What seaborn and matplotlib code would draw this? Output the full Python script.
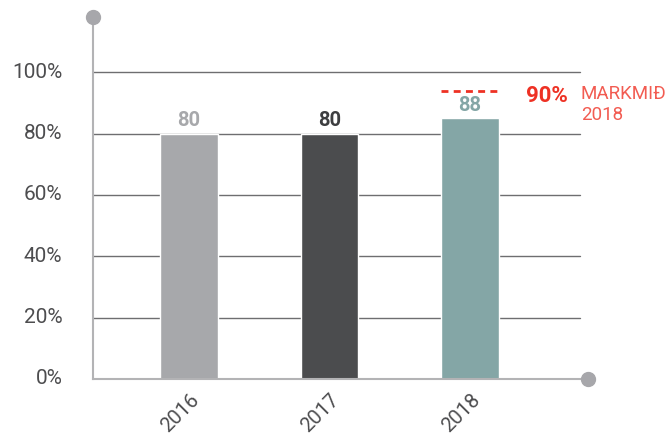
import matplotlib
matplotlib.use("Agg")
import matplotlib.pyplot as plt
import matplotlib.transforms as mtransforms
import seaborn as sns
import pandas as pd

years = ["2016", "2017", "2018"]
bar_heights = [80, 80, 85]
value_labels = ["80", "80", "88"]
bar_colors = ["#a7a8ab", "#4b4c4e", "#84a6a6"]
label_colors = ["#a7a8ab", "#3d3e40", "#84a6a6"]
yticks = [0, 20, 40, 60, 80, 100]
ytick_labels = ["0%", "20%", "40%", "60%", "80%", "100%"]
target_level = 94
target_text = "90%"
target_desc = "MARKMIÐ\n2018"

sns.set_theme(style="white")
plt.rcParams["font.family"] = ["Roboto", "DejaVu Sans"]

df = pd.DataFrame({"year": years, "value": bar_heights})

fig = plt.figure(figsize=(6.71, 4.39), dpi=100)
ax = fig.add_axes([93/671, 59/439, 495/671, 362/439])

sns.barplot(data=df, x="year", y="value", hue="year", palette=bar_colors,
            width=0.41, legend=False, ax=ax, zorder=3, saturation=1)

ax.set_xlim(-0.683, 2.84)
ax.set_ylim(0, 118)

# gridlines
xmax_frac = (580 - 93) / 495
for y in yticks[1:]:
    ax.axhline(y, xmin=0, xmax=xmax_frac, color="#6e6e70", lw=1, zorder=1)

for s in ["top", "right"]:
    ax.spines[s].set_visible(False)
for s in ["left", "bottom"]:
    ax.spines[s].set_color("#b3b3b5")
    ax.spines[s].set_linewidth(1.5)
    ax.spines[s].set_zorder(4)

# end dots
ax.plot([0], [1], transform=ax.transAxes, marker="o", ms=10, color="#a7a7ab",
        clip_on=False, zorder=5)
ax.plot([1], [0], transform=ax.transAxes, marker="o", ms=10, color="#a7a7ab",
        clip_on=False, zorder=5)

ax.set_yticks(yticks)
ax.set_yticklabels(ytick_labels, fontsize=15, color="#4d4d4f")
ax.tick_params(axis="y", length=0, pad=22)
up = mtransforms.ScaledTranslation(0, 3/100, fig.dpi_scale_trans)
for lab in ax.get_yticklabels():
    lab.set_transform(lab.get_transform() + up)

ax.set_xticks(range(len(years)))
ax.set_xticklabels(years, rotation=45, ha="center", va="center",
                   rotation_mode="anchor", fontsize=14.5, color="#4d4d4f")
ax.tick_params(axis="x", length=0, pad=24)
shift = mtransforms.ScaledTranslation(-9/100, 0, fig.dpi_scale_trans)
for lab in ax.get_xticklabels():
    lab.set_transform(lab.get_transform() + shift)
ax.set_xlabel("")
ax.set_ylabel("")

# value labels
for i, (h, t, c) in enumerate(zip(bar_heights, value_labels, label_colors)):
    ax.text(i, h + 1.5, t, ha="center", va="bottom", fontsize=14.5,
            fontweight="bold", color=c, zorder=6)

# target
ax.hlines(target_level, 2 - 0.205, 2 + 0.205, colors="#ee3124", lw=2,
          linestyles=(0, (2.5, 1.9)), zorder=6)
ax.text(2.40, target_level - 1.5, target_text, ha="left", va="center",
        fontsize=16, fontweight="bold", color="#ee3124")
ax.text(2.79, target_level + 2.0, target_desc, ha="left", va="top",
        fontsize=13.5, color="#f25c52", linespacing=1.15)

fig.savefig("out.png", dpi=100)
